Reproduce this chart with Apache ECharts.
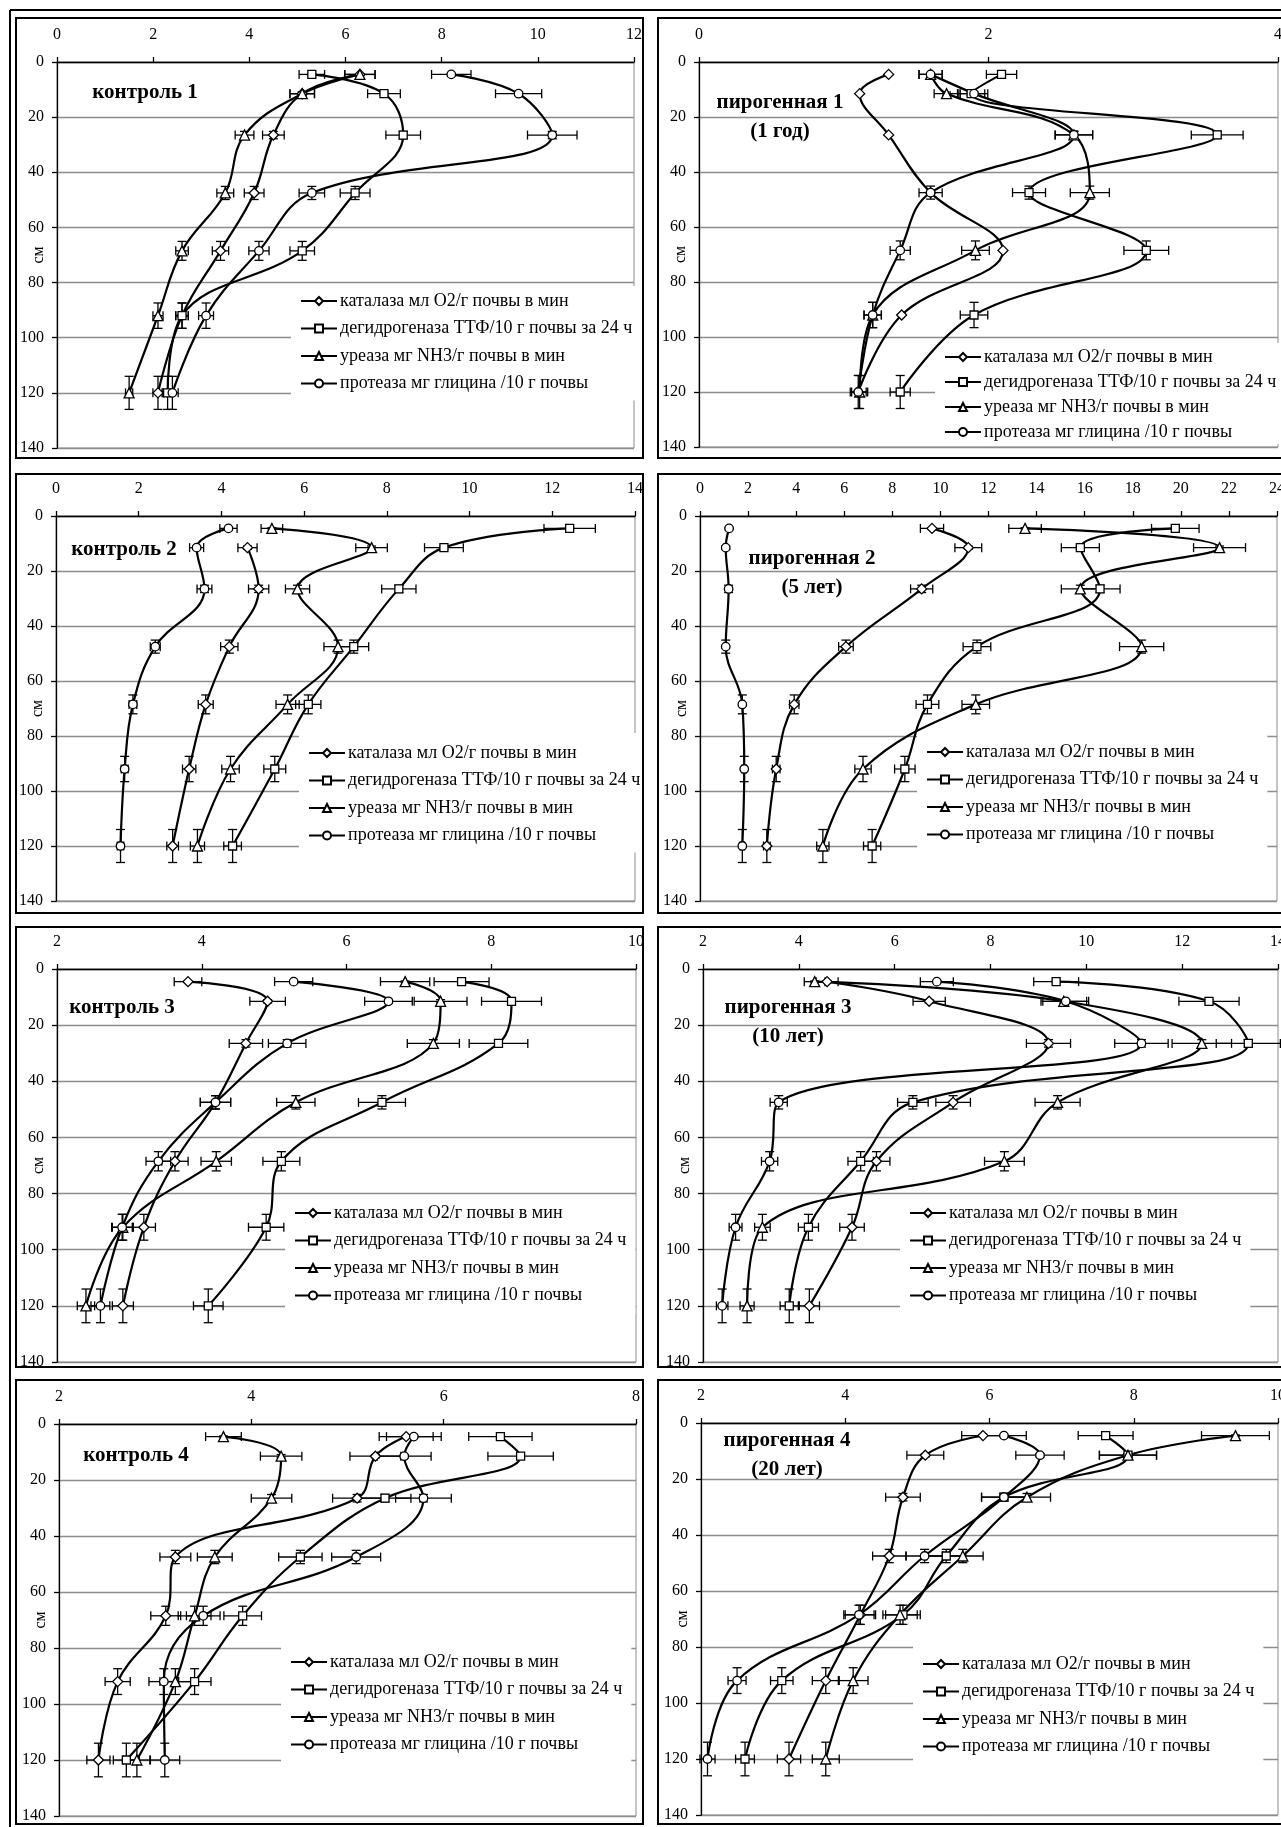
<!DOCTYPE html>
<html>
<head>
<meta charset="utf-8">
<script src="https://cdn.jsdelivr.net/npm/echarts@6/dist/echarts.min.js"></script>
<style>
  html, body { margin: 0; padding: 0; background: #fff; }
  #chart { width: 1281px; height: 1827px; }
</style>
</head>
<body>
<div id="chart"></div>
<script>
// Sampling depths, cm
const DEPTH = [4.5, 11.5, 26.5, 47.5, 68.5, 92, 120];
const DEPTH_TICKS = [0, 140, 20];

const ENZYMES = [
  'каталаза мл O2/г почвы в мин',
  'дегидрогеназа ТТФ/10 г почвы за 24 ч',
  'уреаза мг NH3/г почвы в мин',
  'протеаза мг глицина /10 г почвы'
];

// контроль 1
const k1Catalase      = [6.3, 5.1, 4.5, 4.1, 3.4, 2.6, 2.1];
const k1Dehydrogenase = [5.3, 6.8, 7.2, 6.2, 5.1, 2.6, 2.3];
const k1Urease        = [6.3, 5.1, 3.9, 3.5, 2.6, 2.1, 1.5];
const k1Protease      = [8.2, 9.6, 10.3, 5.3, 4.2, 3.1, 2.4];
// пирогенная 1 (1 год)
const p1Catalase      = [1.31, 1.11, 1.31, 1.60, 2.10, 1.40, 1.10];
const p1Dehydrogenase = [2.09, 1.88, 3.58, 2.28, 3.09, 1.90, 1.39];
const p1Urease        = [1.60, 1.71, 2.59, 2.70, 1.91, 1.20, 1.11];
const p1Protease      = [1.60, 1.90, 2.59, 1.60, 1.39, 1.20, 1.10];
// контроль 2
const k2Catalase      = [null, 4.63, 4.90, 4.19, 3.62, 3.22, 2.82];
const k2Dehydrogenase = [12.42, 9.38, 8.29, 7.20, 6.10, 5.29, 4.27];
const k2Urease        = [5.22, 7.63, 5.84, 6.82, 5.60, 4.22, 3.42];
const k2Protease      = [4.17, 3.40, 3.59, 2.40, 1.86, 1.66, 1.56];
// пирогенная 2 (5 лет)
const p2Catalase      = [9.65, 11.16, 9.22, 6.07, 3.92, 3.17, 2.78];
const p2Dehydrogenase = [19.77, 15.82, 16.64, 11.52, 9.46, 8.52, 7.16];
const p2Urease        = [13.52, 21.61, 15.82, 18.37, 11.47, 6.78, 5.11];
const p2Protease      = [1.21, 1.07, 1.19, 1.07, 1.76, 1.84, 1.76];
// контроль 3
const k3Catalase      = [3.81, 4.91, 4.61, 4.19, 3.63, 3.20, 2.91];
const k3Dehydrogenase = [7.59, 8.28, 8.10, 6.49, 5.10, 4.89, 4.09];
const k3Urease        = [6.81, 7.30, 7.20, 5.30, 4.20, 2.91, 2.40];
const k3Protease      = [5.27, 6.58, 5.18, 4.19, 3.40, 2.90, 2.60];
// пирогенная 3 (10 лет)
const p3Catalase      = [4.59, 6.72, 9.21, 7.22, 5.62, 5.11, 4.22];
const p3Dehydrogenase = [9.37, 12.56, 13.38, 6.38, 5.29, 4.20, 3.80];
const p3Urease        = [4.33, 9.53, 12.41, 9.40, 8.29, 3.24, 2.92];
const p3Protease      = [6.88, 9.57, 11.15, 3.58, 3.39, 2.68, 2.40];
// контроль 4
const k4Catalase      = [5.61, 5.29, 5.10, 3.21, 3.11, 2.61, 2.41];
const k4Dehydrogenase = [6.59, 6.80, 5.39, 4.51, 3.91, 3.41, 2.70];
const k4Urease        = [3.71, 4.31, 4.21, 3.62, 3.41, 3.21, 2.81];
const k4Protease      = [5.69, 5.59, 5.79, 5.09, 3.50, 3.09, 3.10];
// пирогенная 4 (20 лет)
const p4Catalase      = [5.91, 5.11, 4.80, 4.61, 4.21, 3.73, 3.22];
const p4Dehydrogenase = [7.61, 7.92, 6.20, 5.40, 4.80, 3.12, 2.61];
const p4Urease        = [9.41, 7.92, 6.52, 5.63, 4.76, 4.11, 3.73];
const p4Protease      = [6.20, 6.70, 6.20, 5.10, 4.19, 2.50, 2.09];

// Activity axis: [min, max] per panel, step 2
const X_RANGES = [[0, 12], [0, 4], [0, 14], [0, 24], [2, 10], [2, 14], [2, 8], [2, 10]];
const X_STEP = 2;

const TITLES = [
  'контроль 1', 'пирогенная 1\n(1 год)',
  'контроль 2', 'пирогенная 2\n(5 лет)',
  'контроль 3', 'пирогенная 3\n(10 лет)',
  'контроль 4', 'пирогенная 4\n(20 лет)'
];

const PANEL_SERIES = [
  [k1Catalase, k1Dehydrogenase, k1Urease, k1Protease],
  [p1Catalase, p1Dehydrogenase, p1Urease, p1Protease],
  [k2Catalase, k2Dehydrogenase, k2Urease, k2Protease],
  [p2Catalase, p2Dehydrogenase, p2Urease, p2Protease],
  [k3Catalase, k3Dehydrogenase, k3Urease, k3Protease],
  [p3Catalase, p3Dehydrogenase, p3Urease, p3Protease],
  [k4Catalase, k4Dehydrogenase, k4Urease, k4Protease],
  [p4Catalase, p4Dehydrogenase, p4Urease, p4Protease]
];
// series drawn without error bars: [panel, series]
const NO_ERROR_BARS = [[1, 0]];
// relative error of activity and of depth
const ERR_X = 0.05;
const ERR_D = 0.05;

// ---- layout (pixels) ----
const FRAMES = [
  [16, 18, 643, 458], [658, 18, 1292, 458],
  [16, 474, 643, 913], [658, 474, 1292, 913],
  [16, 927, 643, 1367], [658, 927, 1292, 1367],
  [16, 1380, 643, 1824], [658, 1380, 1292, 1824]
];
const PLOTS = [
  [57, 62, 634, 448], [699, 62, 1278, 447],
  [56, 516, 635, 901], [700, 516, 1277, 901],
  [57, 969, 636, 1362], [703, 969, 1278, 1362],
  [59, 1424, 636, 1816], [701, 1423, 1278, 1815]
];
const TITLE_POS = [
  [145, 93], [780, 117.5], [124, 550], [812, 573.5],
  [122, 1008], [788, 1022.5], [136, 1456], [787, 1455]
];
// legend: [iconLeft, boxTop, padTop, itemGap, padBottom]
const LEGEND_POS = [
  [300, 286, 6, 9.5, 8], [944, 343, 5, 7, 3],
  [308, 733, 11, 9.5, 8], [926, 733, 10, 9.5, 8],
  [294, 1197, 7, 9.5, 10], [909, 1197, 7, 9.5, 10],
  [290, 1645, 8, 9.5, 10], [922, 1645, 10, 9.5, 10]
];

const FONT = '"Liberation Serif", "Times New Roman", serif';
const SYMBOLS = ['diamond', 'rect', 'triangle', 'circle'];
const SYMBOL_SIZES = [10, 8, 10, 8.5];
const GRID_GREY = '#8c8c8c';

function errorBars(params, api) {
  const x = api.value(0), d = api.value(1);
  const c = api.coord([x, d]);
  const l = api.coord([x * (1 - ERR_X), d]);
  const r = api.coord([x * (1 + ERR_X), d]);
  const t = api.coord([x, d * (1 - ERR_D)]);
  const b = api.coord([x, d * (1 + ERR_D)]);
  const cap = 4.5;
  const st = { stroke: '#000', lineWidth: 1.3 };
  const seg = (x1, y1, x2, y2) => ({ type: 'line', shape: { x1, y1, x2, y2 }, style: st });
  return {
    type: 'group',
    children: [
      seg(l[0], c[1], r[0], c[1]),
      seg(l[0], c[1] - cap, l[0], c[1] + cap),
      seg(r[0], c[1] - cap, r[0], c[1] + cap),
      seg(c[0], t[1], c[0], b[1]),
      seg(c[0] - cap, t[1], c[0] + cap, t[1]),
      seg(c[0] - cap, b[1], c[0] + cap, b[1])
    ]
  };
}

const grid = [], xAxis = [], yAxis = [], series = [], legend = [], graphic = [];

// outer table lines
graphic.push({ type: 'line', shape: { x1: 10, y1: 10, x2: 1281, y2: 10 }, style: { stroke: '#000', lineWidth: 2 }, z: 10 });
graphic.push({ type: 'line', shape: { x1: 10, y1: 10, x2: 10, y2: 1827 }, style: { stroke: '#000', lineWidth: 2 }, z: 10 });

PANEL_SERIES.forEach((panel, i) => {
  const [px0, py0, px1, py1] = PLOTS[i];
  const [fx0, fy0, fx1, fy1] = FRAMES[i];
  const [xmin, xmax] = X_RANGES[i];

  graphic.push({
    type: 'rect', shape: { x: fx0, y: fy0, width: fx1 - fx0, height: fy1 - fy0 },
    style: { fill: null, stroke: '#000', lineWidth: 2 }, z: 10
  });
  graphic.push({
    type: 'text', x: TITLE_POS[i][0], y: TITLE_POS[i][1], z: 10,
    style: {
      text: TITLES[i], fill: '#000', font: 'bold 21px ' + FONT,
      align: 'center', verticalAlign: 'middle', lineHeight: 29
    }
  });

  grid.push({
    left: px0, top: py0, width: px1 - px0, height: py1 - py0,
    show: true, borderColor: GRID_GREY, borderWidth: 1, backgroundColor: 'transparent',
    containLabel: false, outerBoundsMode: 'none'
  });
  xAxis.push({
    gridIndex: i, type: 'value', position: 'top', min: xmin, max: xmax, interval: X_STEP,
    axisLine: { show: true, onZero: false, lineStyle: { color: '#000', width: 1.3 } },
    axisTick: { show: true, inside: false, length: 5, lineStyle: { color: '#000', width: 1.3 } },
    axisLabel: { margin: 19, fontFamily: FONT, fontSize: 16, color: '#000', showMinLabel: true, showMaxLabel: true },
    splitLine: { show: false }
  });
  yAxis.push({
    gridIndex: i, type: 'value', inverse: true,
    min: DEPTH_TICKS[0], max: DEPTH_TICKS[1], interval: DEPTH_TICKS[2],
    name: 'см', nameLocation: 'middle', nameRotate: 90, nameGap: 10, nameMoveOverlap: false,
    nameTextStyle: { fontFamily: FONT, fontSize: 16, color: '#000' },
    axisLine: { show: true, onZero: false, lineStyle: { color: '#000', width: 1.3 } },
    axisTick: { show: true, inside: false, length: 5, lineStyle: { color: '#000', width: 1.3 } },
    axisLabel: { margin: 13, fontFamily: FONT, fontSize: 16, color: '#000', showMinLabel: true, showMaxLabel: true },
    splitLine: { show: true, lineStyle: { color: GRID_GREY, width: 1.3 } }
  });

  panel.forEach((vals, k) => {
    const pts = [];
    vals.forEach((v, j) => { if (v !== null) pts.push([v, DEPTH[j]]); });
    const skipErr = NO_ERROR_BARS.some(([pi, si]) => pi === i && si === k);
    if (!skipErr) {
      series.push({
        type: 'custom', xAxisIndex: i, yAxisIndex: i, renderItem: errorBars,
        data: pts, z: 2, silent: true, clip: false
      });
    }
    series.push({
      type: 'line', name: ENZYMES[k], xAxisIndex: i, yAxisIndex: i, data: pts,
      smooth: 0.4, symbol: SYMBOLS[k], symbolSize: SYMBOL_SIZES[k], showSymbol: true, showAllSymbol: true,
      lineStyle: { color: '#000', width: 2.2 },
      itemStyle: { color: '#fff', borderColor: '#000', borderWidth: 1.3 },
      emphasis: { disabled: true }, z: 3, silent: true
    });
  });

  const [lx, ltop, padT, gap, padB] = LEGEND_POS[i];
  legend.push({
    left: lx - 9, top: ltop, orient: 'vertical',
    itemWidth: 36, itemHeight: 10, itemGap: gap,
    padding: [padT, 9, padB, 9], backgroundColor: '#fff',
    selectedMode: false, data: ENZYMES, z: 1,
    textStyle: { fontFamily: FONT, fontSize: 18, lineHeight: 18, color: '#000', padding: [0, 0, 0, -2] }
  });
});

const chart = echarts.init(document.getElementById('chart'), null, { renderer: 'canvas' });
chart.setOption({
  backgroundColor: '#fff',
  animation: false,
  tooltip: { show: false },
  grid, xAxis, yAxis, series, legend, graphic
});
</script>
</body>
</html>
